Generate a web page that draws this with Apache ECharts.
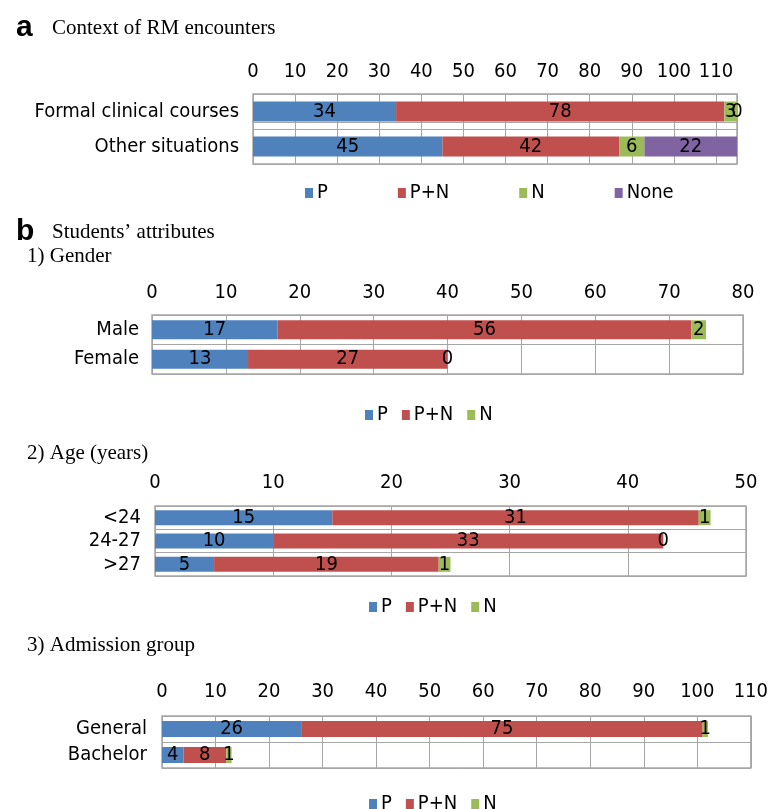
<!DOCTYPE html>
<html>
<head>
<meta charset="utf-8">
<script src="https://cdn.jsdelivr.net/npm/echarts@6/dist/echarts.min.js"></script>
<style>
  html, body { margin: 0; padding: 0; background: #fff; }
  #chart { width: 771px; height: 809px; }
</style>
</head>
<body>
<div id="chart"></div>
<script>
// a) context of RM encounters
var contextCats = ['Formal clinical courses', 'Other situations']
var contextP = [34, 45]
var contextPN = [78, 42]
var contextN = [3, 6]
var contextNone = [0, 22]
var contextMax = 115

// b1) gender
var genderCats = ['Male', 'Female']
var genderP = [17, 13]
var genderPN = [56, 27]
var genderN = [2, 0]
var genderMax = 80

// b2) age
var ageCats = ['<24', '24-27', '>27']
var ageP = [15, 10, 5]
var agePN = [31, 33, 19]
var ageN = [1, 0, 1]
var ageMax = 50

// b3) admission group
var admCats = ['General', 'Bachelor']
var admP = [26, 4]
var admPN = [75, 8]
var admN = [1, 1]
var admMax = 110

var colors = {
  'P': '#4F81BD',
  'P+N': '#C0504D',
  'N': '#9BBB59',
  'None': '#8064A2'
}

var sansFont = "'DejaVu Sans Condensed', 'Liberation Sans Narrow', 'DejaVu Sans', sans-serif"
var serifFont = "'Liberation Serif', 'DejaVu Serif', serif"
var gridColor = '#a6a6a6'
var fs = 20

var chart = echarts.init(document.getElementById('chart'))

// panel layout (pixels)
var panels = [
  { cats: contextCats, max: contextMax, grid: { left: 253, right: 34, top: 94, height: 70 }, barWidth: 20, labelMargin: 12, yMargin: 14,
    legend: { left: 305, top: 178, itemGap: 70 },
    series: [['P', contextP], ['P+N', contextPN], ['N', contextN], ['None', contextNone]] },
  { cats: genderCats, max: genderMax, grid: { left: 152, right: 28, top: 315, height: 59 }, barWidth: 19, labelMargin: 12, yMargin: 13,
    legend: { left: 365, top: 400, itemGap: 14 },
    series: [['P', genderP], ['P+N', genderPN], ['N', genderN]] },
  { cats: ageCats, max: ageMax, grid: { left: 155, right: 25, top: 506, height: 70 }, barWidth: 15, labelMargin: 13, yMargin: 14,
    legend: { left: 369, top: 592, itemGap: 14 },
    series: [['P', ageP], ['P+N', agePN], ['N', ageN]] },
  { cats: admCats, max: admMax, grid: { left: 162, right: 18, top: 716, height: 52 }, barWidth: 16, labelMargin: 14, yMargin: 15,
    legend: { left: 369, top: 789, itemGap: 14 },
    series: [['P', admP], ['P+N', admPN], ['N', admN]] }
]

var grids = []
var xAxes = []
var yAxes = []
var series = []
var legends = []

panels.forEach(function(p, i) {
  grids.push(Object.assign({ show: true, borderColor: gridColor, borderWidth: 1.5, containLabel: false }, p.grid))
  xAxes.push({
    type: 'value',
    gridIndex: i,
    position: 'top',
    min: 0,
    max: p.max,
    interval: 10,
    axisLine: { show: false },
    axisTick: { show: false },
    axisLabel: {
      showMaxLabel: p.max % 10 === 0,
      margin: p.labelMargin,
      color: '#000',
      fontSize: fs,
      fontFamily: sansFont
    },
    splitLine: { show: true, lineStyle: { color: gridColor, width: 1 } }
  })
  yAxes.push({
    type: 'category',
    gridIndex: i,
    inverse: true,
    data: p.cats,
    axisLine: { show: false },
    axisTick: { show: false },
    axisLabel: {
      interval: 0,
      margin: p.yMargin,
      color: '#000',
      fontSize: fs,
      fontFamily: sansFont
    },
    splitLine: { show: true, lineStyle: { color: gridColor, width: 1 } }
  })
  p.series.forEach(function(s) {
    series.push({
      name: s[0],
      type: 'bar',
      stack: 'panel' + i,
      xAxisIndex: i,
      yAxisIndex: i,
      barWidth: p.barWidth,
      itemStyle: { color: colors[s[0]] },
      label: {
        show: true,
        position: 'inside',
        color: '#000',
        fontSize: fs,
        fontFamily: sansFont
      },
      data: s[1]
    })
  })
  legends.push({
    left: p.legend.left - 5,
    top: p.legend.top,
    itemGap: p.legend.itemGap,
    itemWidth: 8,
    itemHeight: 10,
    icon: 'rect',
    orient: 'horizontal',
    textStyle: { color: '#000', fontSize: fs, fontFamily: sansFont, padding: [0, 0, 0, -1] },
    data: p.series.map(function(s) { return s[0] })
  })
})

// second separator line in panel a (Excel draws a small gap between the category boxes)
yAxes.push({
  type: 'value',
  gridIndex: 0,
  min: 0,
  max: 1,
  axisLine: { show: false },
  axisLabel: { show: false },
  axisTick: { show: false, customValues: [0.6] },
  splitLine: { show: true, lineStyle: { color: gridColor, width: 1 } }
})

var titles = [
  { text: 'a', left: 11, top: 8, textStyle: { fontSize: 30, fontWeight: 'bold', fontFamily: "'Liberation Sans', Arial, sans-serif", color: '#000' } },
  { text: 'Context of RM encounters', left: 47, top: 13, textStyle: { fontSize: 21, fontWeight: 'normal', fontFamily: serifFont, color: '#000' } },
  { text: 'b', left: 11, top: 212, textStyle: { fontSize: 30, fontWeight: 'bold', fontFamily: "'Liberation Sans', Arial, sans-serif", color: '#000' } },
  { text: 'Students\u2019 attributes', left: 47, top: 217, textStyle: { fontSize: 21, fontWeight: 'normal', fontFamily: serifFont, color: '#000' } },
  { text: '1) Gender', left: 22, top: 241, textStyle: { fontSize: 21, fontWeight: 'normal', fontFamily: serifFont, color: '#000' } },
  { text: '2) Age (years)', left: 22, top: 438, textStyle: { fontSize: 21, fontWeight: 'normal', fontFamily: serifFont, color: '#000' } },
  { text: '3) Admission group', left: 22, top: 630, textStyle: { fontSize: 21, fontWeight: 'normal', fontFamily: serifFont, color: '#000' } }
]

chart.setOption({
  animation: false,
  title: titles,
  grid: grids,
  xAxis: xAxes,
  yAxis: yAxes,
  legend: legends,
  series: series
})
</script>
</body>
</html>
